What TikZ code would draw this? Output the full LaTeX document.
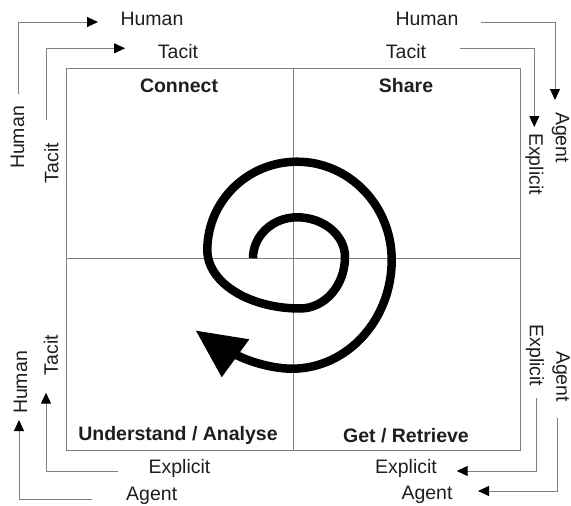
\documentclass[tikz,border=0pt]{standalone}
\usepackage{fontspec}
\setmainfont{Liberation Sans}
\usetikzlibrary{arrows.meta}
\definecolor{linegray}{RGB}{128,128,128}
\definecolor{txt}{RGB}{30,30,30}
\begin{document}
\begin{tikzpicture}[x=1pt,y=-1pt,
  lbl/.style={inner sep=0pt, font=\fontsize{19.5}{22}\selectfont, text=txt},
  ttl/.style={inner sep=0pt, font=\fontsize{19.5}{22}\selectfont\bfseries, text=txt},
  conn/.style={draw=linegray, line width=1pt, -{Triangle[length=11pt,width=10pt,color=black]}},
  gridline/.style={draw=linegray, line width=1pt},
  spiral/.style={draw=black, line width=8.5pt, line cap=butt, line join=round}]
\useasboundingbox (0,0) rectangle (571,506);

% frame and quadrants
\draw[gridline] (66,68) rectangle (520,450);
\draw[gridline] (293,68) -- (293,450);
\draw[gridline] (66,258) -- (520,258);

% quadrant titles
\node[ttl] (connect) at (179,85.5) {Connect};
\node[ttl] (share) at (406,85.5) {Share};
\node[ttl] (understand) at (178,435.5) {Understand / Analyse};
\node[ttl] (get) at (406,436) {Get / Retrieve};

% horizontal labels
\node[lbl] (hTL) at (152,19.3) {Human};
\node[lbl] (tTL) at (178,51.3) {Tacit};
\node[lbl] (hTR) at (427,19.3) {Human};
\node[lbl] (tTR) at (406,51.3) {Tacit};
\node[lbl] (eBL) at (179.5,468.3) {Explicit};
\node[lbl] (aBL) at (151.7,495.5) {Agent};
\node[lbl] (eBR) at (406,468.3) {Explicit};
\node[lbl] (aBR) at (427,495.3) {Agent};

% vertical labels
\node[lbl, rotate=90] (hL1) at (17.5,137.5) {Human};
\node[lbl, rotate=90] (tL1) at (51.5,163) {Tacit};
\node[lbl, rotate=90] (tL2) at (51,355) {Tacit};
\node[lbl, rotate=90] (hL2) at (20.5,382.5) {Human};
\node[lbl, rotate=-90] (aR1) at (560.5,137.5) {Agent};
\node[lbl, rotate=-90] (eR1) at (534.5,164) {Explicit};
\node[lbl, rotate=-90] (eR2) at (535,355.5) {Explicit};
\node[lbl, rotate=-90] (aR2) at (561,376.5) {Agent};

% connector end points
\coordinate (s1) at (18,94);   \coordinate (e1) at (98,22);
\coordinate (s2) at (46,120);  \coordinate (e2) at (125,48.3);
\coordinate (s3) at (481,22.3); \coordinate (e3) at (555,100);
\coordinate (s4) at (460,48.3); \coordinate (e4) at (534.3,127);
\coordinate (s5) at (118,471); \coordinate (e5) at (46,392.7);
\coordinate (s6) at (92,499);  \coordinate (e6) at (19,420);
\coordinate (s7) at (536.7,398); \coordinate (e7) at (456.7,471);
\coordinate (s8) at (557.7,418); \coordinate (e8) at (478,491);

\draw[conn] (s1) |- (e1);
\draw[conn] (s2) |- (e2);
\draw[conn] (s3) -| (e3);
\draw[conn] (s4) -| (e4);
\draw[conn] (s5) -| (e5);
\draw[conn] (s6) -| (e6);
\draw[conn] (s7) |- (e7);
\draw[conn] (s8) |- (e8);

% spiral
\draw[spiral] (253,258.3)
  .. controls (253,235.7) and (272.7,217.3) .. (297,217.3)
  .. controls (323.5,217.3) and (345,235.1) .. (345,257)
  .. controls (345,285.4) and (324.8,308.5) .. (300,308.5)
  .. controls (248.7,308.5) and (207.3,282.3) .. (207.3,250)
  .. controls (207.3,201.3) and (247.5,161.7) .. (297,161.7)
  .. controls (349.3,161.7) and (391.7,205.7) .. (391.7,260)
  .. controls (391.7,320) and (347,368.7) .. (292,368.7)
  .. controls (270,368.7) and (244.3,359.8) .. (234,353.6);
\fill[black] (196,330.7) -- (249.3,339.3) -- (221.7,377.3) -- cycle;
\end{tikzpicture}
\end{document}
